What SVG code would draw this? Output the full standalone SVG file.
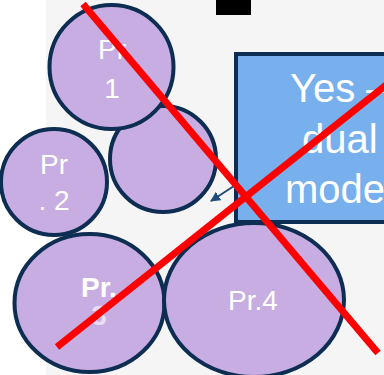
<svg xmlns="http://www.w3.org/2000/svg" width="384" height="375" viewBox="0 0 384 375">
<defs>
<style>
.node{fill:#c8ade2;stroke:#0d2d52;stroke-width:4}
.lbl{fill:#ffffff;font-family:"Liberation Sans",Arial,sans-serif;font-size:28px;text-anchor:middle}
.big{fill:#ffffff;font-family:"Liberation Sans",Arial,sans-serif;font-size:40px}
.cross{stroke:#ff0000;stroke-width:7;fill:none}
</style>
<marker id="ah" viewBox="0 0 10 10" refX="9" refY="5" markerWidth="5" markerHeight="5" orient="auto">
<path d="M0,0 L10,5 L0,10 z" fill="#1f4e79"/>
</marker>
</defs>
<rect width="384" height="375" fill="#ffffff"/>
<rect x="46" y="0" width="338" height="375" fill="#f5f5f5"/>
<rect x="216" y="0" width="35" height="15" fill="#000000"/>
<g id="box">
<rect x="236" y="54" width="160" height="168" fill="#77b0ec" stroke="#0d2d52" stroke-width="4"/>
<text class="big" x="290" y="102">Yes –</text>
<text class="big" x="302" y="153">dual</text>
<text class="big" x="285" y="203">mode</text>
</g>
<g id="connectors">
<line x1="234" y1="186" x2="211" y2="201" stroke="#1f4e79" stroke-width="2" marker-end="url(#ah)"/>
</g>
<g id="pr2">
<circle class="node" cx="54" cy="182" r="53"/>
<text class="lbl" x="54" y="174">Pr</text>
<text class="lbl" x="54" y="210">. 2</text>
</g>
<g id="mid">
<circle class="node" cx="163" cy="159" r="53"/>
</g>
<g id="pr1">
<ellipse class="node" cx="111.5" cy="67" rx="62" ry="62"/>
<text class="lbl" x="112" y="59">Pr</text>
<text class="lbl" x="112" y="98">1</text>
</g>
<g id="pr3">
<ellipse class="node" cx="89.5" cy="303" rx="75" ry="69"/>
<text class="lbl" x="99" y="297" font-weight="bold">Pr.</text>
<text class="lbl" x="99" y="325" font-weight="bold" fill-opacity="0.6">3</text>
</g>
<g id="pr4">
<ellipse class="node" cx="254" cy="300" rx="90" ry="77"/>
<text class="lbl" x="253" y="310">Pr.4</text>
</g>
<g id="cross">
<line class="cross" x1="83" y1="4" x2="378" y2="353"/>
<line class="cross" x1="57" y1="347" x2="390" y2="82"/>
</g>
</svg>
